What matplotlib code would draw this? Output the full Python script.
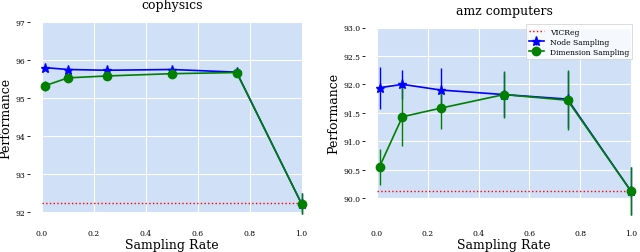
import matplotlib
matplotlib.use("Agg")
import matplotlib.pyplot as plt

# sampling rates shared by both panels
rates = [0.01, 0.1, 0.25, 0.5, 0.75, 1.0]

# cophysics
co_node = [95.80, 95.75, 95.73, 95.75, 95.68, 92.22]
co_node_err = [0.06, 0.06, 0.05, 0.06, 0.08, 0.27]
co_dim = [95.32, 95.53, 95.58, 95.64, 95.67, 92.22]
co_dim_err = [0.14, 0.05, 0.06, 0.07, 0.08, 0.27]
co_vicreg = 92.24

# amz computers
amz_node = [91.94, 92.00, 91.90, 91.82, 91.74, 90.12]
amz_node_err = [0.37, 0.26, 0.38, 0.40, 0.50, 0.42]
amz_dim = [90.55, 91.43, 91.58, 91.82, 91.72, 90.12]
amz_dim_err = [0.32, 0.52, 0.37, 0.41, 0.53, 0.42]
amz_vicreg = 90.12

plt.rcParams["font.family"] = "DejaVu Serif"

W, H = 640, 253
fig = plt.figure(figsize=(W / 100, H / 100), dpi=100)

bg = "#cfe0f7"


def make_panel(rect, title, node, node_err, dim, dim_err, vicreg, ylim, yticks,
               yfmt, xoff, legend=False):
    ax = fig.add_axes(rect)
    ax.set_facecolor(bg)
    for s in ax.spines.values():
        s.set_visible(False)
    ax.spines["left"].set_position(("outward", 8.5))
    ax.spines["bottom"].set_position(("outward", xoff))
    ax.grid(True, color="white", linewidth=0.8)
    ax.set_axisbelow(True)

    ax.plot([0, 1], [vicreg, vicreg], ls=":", color="red", lw=1.0,
            label="VICReg", clip_on=False)
    ax.errorbar(rates, node, yerr=node_err, color="blue", marker="*",
                markersize=6.5, lw=1.2, elinewidth=1.0, label="Node Sampling",
                clip_on=False)
    ax.errorbar(rates, dim, yerr=dim_err, color="green", marker="o",
                markersize=6, lw=1.2, elinewidth=1.0,
                label="Dimension Sampling", clip_on=False)

    ax.set_xlim(0, 1)
    ax.set_ylim(*ylim)
    ax.set_yticks(yticks)
    ax.set_yticklabels([yfmt.format(v) for v in yticks])
    ax.set_xticks([0, 0.2, 0.4, 0.6, 0.8, 1.0])
    ax.tick_params(axis="y", labelsize=5.5, length=2, width=0.6, pad=1.5)
    ax.tick_params(axis="x", labelsize=5.5, length=0, pad=2)
    ax.set_xlabel("Sampling Rate", fontsize=9, labelpad=1)
    ax.set_ylabel("Performance", fontsize=9, labelpad=2)
    ax.set_title(title, fontsize=9, pad=10)

    if legend:
        leg = ax.legend(loc="upper right", bbox_to_anchor=(1.02, 1.04),
                        fontsize=5.5, frameon=True, fancybox=False,
                        borderpad=0.4, handlelength=2.0, labelspacing=0.3)
        leg.get_frame().set_facecolor("white")
        leg.get_frame().set_edgecolor("#cccccc")
        leg.get_frame().set_linewidth(0.6)
    return ax


make_panel([42 / W, 1 - 213 / H, 259.5 / W, 190 / H], "cophysics",
           co_node, co_node_err, co_dim, co_dim_err, co_vicreg,
           (92, 97), [92, 93, 94, 95, 96, 97], "{:.0f}", 10)

make_panel([377 / W, 1 - 199 / H, 254 / W, 170.5 / H], "amz computers",
           amz_node, amz_node_err, amz_dim, amz_dim_err, amz_vicreg,
           (90, 93), [90.0, 90.5, 91.0, 91.5, 92.0, 92.5, 93.0], "{:.1f}", 20,
           legend=True)

fig.savefig("out.png", dpi=100)
